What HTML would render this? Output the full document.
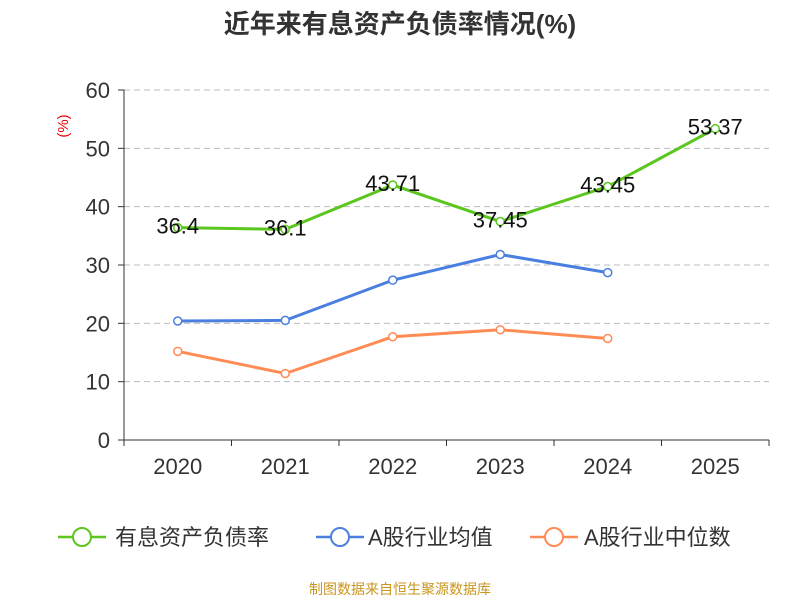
<!DOCTYPE html>
<html><head><meta charset="utf-8"><style>
body{margin:0;background:#fff;}
svg text{font-family:"Liberation Sans","Noto Sans CJK SC",sans-serif;}
</style></head><body>
<svg width="800" height="600" id="chart">
<text x="400" y="33" text-anchor="middle" font-size="26" font-weight="bold" fill="#333">近年来有息资产负债率情况(%)</text>
<text x="68" y="126" text-anchor="middle" font-size="15" fill="#e00" transform="rotate(-90 68 126)">(%)</text>
<g id="grid"></g><g id="axes"></g><g id="series"></g>
<g>
<g><line x1="58" y1="537" x2="106" y2="537" stroke="#5ac61e" stroke-width="2.5"/><circle cx="82" cy="537" r="9" fill="#fff" stroke="#5ac61e" stroke-width="2"/><text x="115" y="545" font-size="22" fill="#333">有息资产负债率</text></g>
<g><line x1="316" y1="537" x2="364" y2="537" stroke="#4a7fe0" stroke-width="2.5"/><circle cx="340" cy="537" r="9" fill="#fff" stroke="#4a7fe0" stroke-width="2"/><text x="368" y="545" font-size="22" fill="#333">A股行业均值</text></g>
<g><line x1="530" y1="537" x2="578" y2="537" stroke="#ff8c55" stroke-width="2.5"/><circle cx="554" cy="537" r="9" fill="#fff" stroke="#ff8c55" stroke-width="2"/><text x="584" y="545" font-size="22" fill="#333">A股行业中位数</text></g>
</g>
<text x="400" y="594" text-anchor="middle" font-size="14" fill="#c8961e">制图数据来自恒生聚源数据库</text>
</svg>
<script>
const categories=["2020","2021","2022","2023","2024","2025"];
const companyValues=[36.4,36.1,43.71,37.45,43.45,53.37];
const meanValues=[20.4,20.5,27.4,31.8,28.7];
const medianValues=[15.2,11.4,17.7,18.9,17.4];
const yTicks=[0,10,20,30,40,50,60];
const NS="http://www.w3.org/2000/svg";
const x0=124,x1=769,yb=440,yt=90,ymax=60;
const bw=(x1-x0)/categories.length;
const xs=i=>x0+bw*(i+0.5);
const ys=v=>yb-(v/ymax)*(yb-yt);
function mk(p,t,a){const e=document.createElementNS(NS,t);for(const k in a)e.setAttribute(k,a[k]);p.appendChild(e);return e;}
const grid=document.getElementById('grid'),axes=document.getElementById('axes'),ser=document.getElementById('series');
yTicks.forEach(v=>{
 if(v>0){const g=mk(grid,'line',{x1:x0,x2:x1,y1:ys(v),y2:ys(v),stroke:'#bbb','stroke-dasharray':'6,4'});
 
 }
 const t=mk(axes,'text',{x:x0-14,y:ys(v)+8,'text-anchor':'end','font-size':22,fill:'#333'});t.textContent=v;
 
 
 mk(axes,'line',{x1:x0-6,x2:x0,y1:ys(v),y2:ys(v),stroke:'#333'});
});
const ya=mk(axes,'line',{x1:x0,x2:x0,y1:yt,y2:yb,stroke:'#333'});


const xa=mk(axes,'line',{x1:x0,x2:x1,y1:yb,y2:yb,stroke:'#333'});


for(let i=0;i<=categories.length;i++)mk(axes,'line',{x1:x0+bw*i,x2:x0+bw*i,y1:yb,y2:yb+6,stroke:'#333'});
categories.forEach((c,i)=>{const t=mk(axes,'text',{x:xs(i),y:yb+34,'text-anchor':'middle','font-size':22,fill:'#333'});t.textContent=c;
 
 });
function series(vals,color,name,labels){
 const g=mk(ser,'g',{});
 
 
 mk(g,'polyline',{points:vals.map((v,i)=>xs(i)+','+ys(v)).join(' '),fill:'none',stroke:color,'stroke-width':3});
 vals.forEach((v,i)=>{const c=mk(g,'circle',{cx:xs(i),cy:ys(v),r:4,fill:'#fff',stroke:color,'stroke-width':1.5});
  
  
  if(labels){const t=mk(g,'text',{x:xs(i),y:ys(v)+6,'text-anchor':'middle','font-size':22,fill:'#111'});t.textContent=v;
   
   }
 });
}
series(medianValues,'#ff8c55','industry-median-line',false);
series(meanValues,'#4a7fe0','industry-mean-line',false);
series(companyValues,'#5ac61e','company-line',true);
</script>
</body></html>
